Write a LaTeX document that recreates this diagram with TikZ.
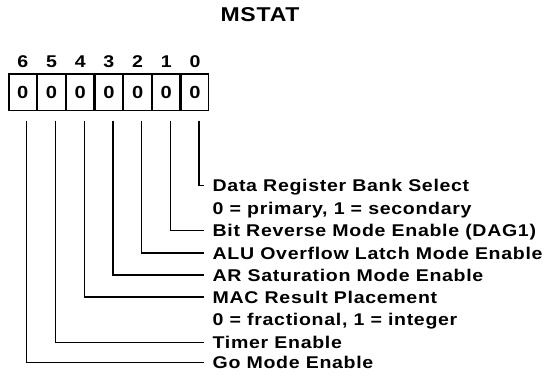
\documentclass[tikz,border=0pt]{standalone}
\usepackage{fontspec}
\setmainfont{Liberation Sans}[FakeStretch=1.15, LetterSpace=4]
\usetikzlibrary{positioning}
\tikzset{regcell/.style={draw, line width=1.2pt, minimum width=27.5pt,
minimum height=36.7pt, inner sep=0pt,
font=\bfseries\fontsize{17.5}{20}\selectfont},
bitnum/.style={inner sep=0pt, text height=12pt, text depth=0pt,
font=\bfseries\fontsize{17}{20}\selectfont},
bitdesc/.style={anchor=west, inner sep=0pt, text height=12.2pt, text depth=0pt,
font=\bfseries\fontsize{17}{20}\selectfont},
bitline/.style={line width=1.2pt}}

\begin{document}
\begin{tikzpicture}[x=1pt, y=-1pt]
	\useasboundingbox (0,0) rectangle (548,377);
	\node[font=\bfseries\fontsize{20}{24}\selectfont, inner sep=0pt] (title) at (260,14.5) {MSTAT};
	% register cells
	\node[regcell] (b6) at (22.8,92.4) {0};
	\node[regcell, right=0pt of b6] (b5) {0};
	\node[regcell, right=0pt of b5] (b4) {0};
	\node[regcell, right=0pt of b4] (b3) {0};
	\node[regcell, right=0pt of b3] (b2) {0};
	\node[regcell, right=0pt of b2] (b1) {0};
	\node[regcell, right=0pt of b1] (b0) {0};
	% bit numbers
	\node[bitnum, above=6pt of b6] (n6) {6};
	\node[bitnum, above=6pt of b5] (n5) {5};
	\node[bitnum, above=6pt of b4] (n4) {4};
	\node[bitnum, above=6pt of b3] (n3) {3};
	\node[bitnum, above=6pt of b2] (n2) {2};
	\node[bitnum, above=6pt of b1] (n1) {1};
	\node[bitnum, above=6pt of b0] (n0) {0};
	% bit descriptions
	\node[bitdesc] (dregsel) at (212.5,185.3) {Data Register Bank Select};
	\node[bitdesc] (dregval) at (212.5,208) {0 = primary, 1 = secondary};
	\node[bitdesc] (bitrev) at (212.5,230.7) {Bit Reverse Mode Enable (DAG1)};
	\node[bitdesc] (aluovf) at (212.5,253) {ALU Overflow Latch Mode Enable};
	\node[bitdesc] (arsat) at (212.5,275) {AR Saturation Mode Enable};
	\node[bitdesc] (macres) at (212.5,297) {MAC Result Placement};
	\node[bitdesc] (macval) at (212.5,319.7) {0 = fractional, 1 = integer};
	\node[bitdesc] (timer) at (212.5,342.7) {Timer Enable};
	\node[bitdesc] (gomode) at (212.5,362.7) {Go Mode Enable};
	% connectors
	\draw[bitline] ([xshift=4pt,yshift=-9.3pt]b0.south) |- ([xshift=-9pt]dregsel.west);
	\draw[bitline] ([xshift=4pt,yshift=-9.3pt]b1.south) |- ([xshift=-9pt]bitrev.west);
	\draw[bitline] ([xshift=4pt,yshift=-9.3pt]b2.south) |- ([xshift=-9pt]aluovf.west);
	\draw[bitline] ([xshift=4pt,yshift=-9.3pt]b3.south) |- ([xshift=-9pt]arsat.west);
	\draw[bitline] ([xshift=4pt,yshift=-9.3pt]b4.south) |- ([xshift=-9pt]macres.west);
	\draw[bitline] ([xshift=4pt,yshift=-9.3pt]b5.south) |- ([xshift=-9pt]timer.west);
	\draw[bitline] ([xshift=4pt,yshift=-9.3pt]b6.south) |- ([xshift=-9pt]gomode.west);
\end{tikzpicture}
\end{document}
